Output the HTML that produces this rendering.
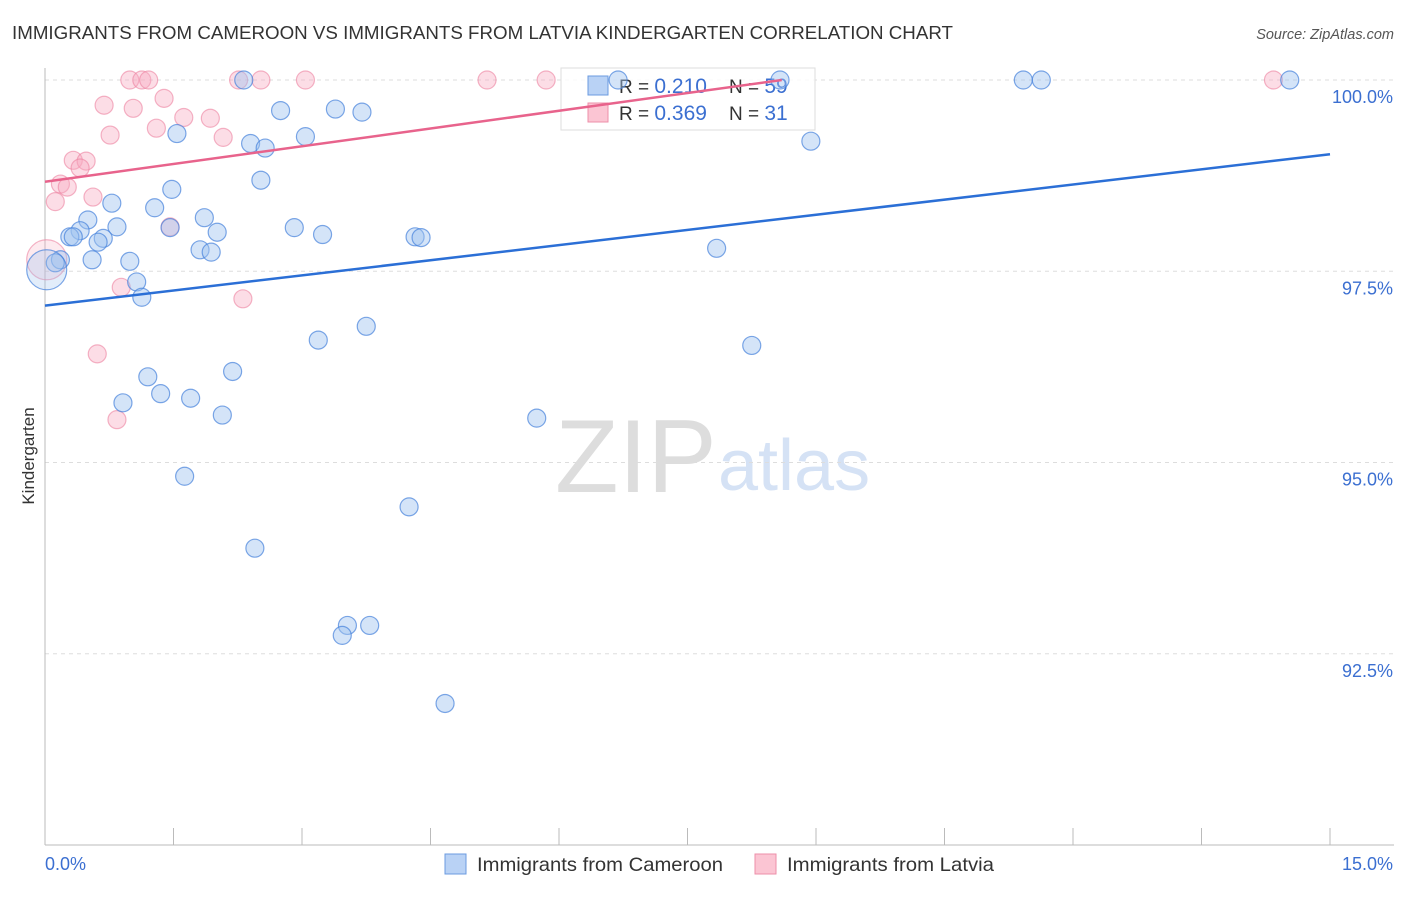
<!DOCTYPE html>
<html><head><meta charset="utf-8"><style>
body{margin:0;background:#fff;font-family:"Liberation Sans",sans-serif}
svg text{font-family:"Liberation Sans",sans-serif}
</style></head><body>
<svg id="chart" width="1406" height="892" viewBox="0 0 1406 892">
<text x="12" y="39" font-size="18.2" fill="#333" textLength="941" lengthAdjust="spacingAndGlyphs">IMMIGRANTS FROM CAMEROON VS IMMIGRANTS FROM LATVIA KINDERGARTEN CORRELATION CHART</text>
<text x="1394" y="39" font-size="14.5" fill="#555" font-style="italic" text-anchor="end">Source: ZipAtlas.com</text>
<text x="34" y="456" font-size="17" fill="#333" transform="rotate(-90 34 456)" text-anchor="middle">Kindergarten</text>
<text x="555" y="492" font-size="104" fill="#ddd" font-family="Liberation Serif">ZIP</text>
<text x="718" y="490" font-size="72" fill="#d5e2f5">atlas</text>
<g id="grid"></g><g id="axes"></g>
<g>
<rect x="561" y="68" width="254" height="62" fill="#fff" fill-opacity="0.85" stroke="#ddd"/>
<rect x="588" y="76" width="20" height="19" fill="#b9d2f5" stroke="#6b9be0"/>
<rect x="588" y="103" width="20" height="19" fill="#fbc5d3" stroke="#ee8fa9"/>
<text x="619" y="93" font-size="19" fill="#333">R = <tspan font-size="21" fill="#3b6fd1">0.210</tspan><tspan x="729">N = </tspan><tspan font-size="21" fill="#3b6fd1">59</tspan></text>
<text x="619" y="120" font-size="19" fill="#333">R = <tspan font-size="21" fill="#3b6fd1">0.369</tspan><tspan x="729">N = </tspan><tspan font-size="21" fill="#3b6fd1"> 31</tspan></text>
</g>
<g id="pts"></g><g id="lines"></g>
<g>
<rect x="445" y="854" width="21" height="20" fill="#b9d2f5" stroke="#6b9be0"/>
<text x="477" y="871" font-size="19.5" fill="#333" textLength="246" lengthAdjust="spacingAndGlyphs">Immigrants from Cameroon</text>
<rect x="755" y="854" width="21" height="20" fill="#fbc5d3" stroke="#ee8fa9"/>
<text x="787" y="871" font-size="19.5" fill="#333" textLength="207" lengthAdjust="spacingAndGlyphs">Immigrants from Latvia</text>
</g>
</svg>
<script>
const yTicks=[100,97.5,95,92.5];
const yTickLabels=["100.0%","97.5%","95.0%","92.5%"];
const xTickLabels=["0.0%","15.0%"];
const cameroonX=[2.32,6.69,8.58,11.42,11.63,14.53,2.75,3.39,3.70,1.54,3.04,2.4,2.57,8.94,2.52,1.48,0.78,1.28,0.5,1.86,0.84,1.46,0.41,0.29,0.33,0.68,0.62,2.01,2.91,3.24,4.32,4.39,1.81,1.94,7.84,0.55,0.99,0.18,0.12,1.07,1.13,3.19,3.75,8.25,1.2,2.19,0.91,1.35,1.7,2.07,5.74,1.63,4.25,2.45,3.53,3.79,3.47,4.67,0.02];
const cameroonY=[100,100,100,100,100,100,99.6,99.62,99.58,99.3,99.26,99.17,99.11,99.2,98.69,98.57,98.39,98.33,98.17,98.2,98.08,98.07,98.03,97.95,97.95,97.93,97.88,98.01,98.07,97.98,97.95,97.94,97.78,97.75,97.8,97.65,97.63,97.65,97.61,97.36,97.16,96.6,96.78,96.53,96.12,96.19,95.78,95.9,95.84,95.62,95.58,94.82,94.42,93.88,92.87,92.87,92.74,91.85,97.52];
const latviaX=[0.99,1.13,1.21,2.26,2.52,3.04,5.16,5.85,14.34,1.39,0.69,1.03,1.93,1.62,1.3,0.76,2.08,0.33,0.48,0.41,0.18,0.26,0.56,0.12,1.46,0.89,2.31,0.61,0.84,0.02];
const latviaY=[100,100,100,100,100,100,100,100,100,99.76,99.67,99.63,99.5,99.51,99.37,99.28,99.25,98.95,98.94,98.85,98.64,98.6,98.47,98.41,98.08,97.29,97.14,96.42,95.56,97.65];
const bigIdx=58;
const regCameroon=[0,15,97.05,99.03];
const regLatvia=[0,8.6,98.67,100.0];
const X=v=>45+v/15*1285, Y=v=>80+(100-v)*76.5;
const NS="http://www.w3.org/2000/svg";
function mk(t,a,p){const e=document.createElementNS(NS,t);for(const k in a)e.setAttribute(k,a[k]);p.appendChild(e);return e;}
const grid=document.getElementById('grid'),axes=document.getElementById('axes'),pts=document.getElementById('pts'),lines=document.getElementById('lines');
yTicks.forEach((t,i)=>{
 const g=mk('line',{x1:45,x2:1394,y1:Y(t),y2:Y(t),stroke:'#ddd','stroke-dasharray':'4,4'},grid);
 
 
 const tx=mk('text',{x:1393,y:Y(t)+23,'font-size':18,fill:'#3b6fd1','text-anchor':'end'},axes);
 tx.textContent=yTickLabels[i];
 
 
});
const ax=mk('line',{x1:45,x2:45,y1:68,y2:845,stroke:'#bbb'},axes);


const bx=mk('line',{x1:45,x2:1394,y1:845,y2:845,stroke:'#bbb'},axes);


for(let i=0;i<=10;i++){const l=mk('line',{x1:X(i*1.5),x2:X(i*1.5),y1:828,y2:845,stroke:'#bbb'},axes);
 
 }
[[0,45,'start'],[15,1393,'end']].forEach((d,i)=>{const t=mk('text',{x:d[1],y:870,'font-size':18,fill:'#3b6fd1','text-anchor':d[2]},axes);t.textContent=xTickLabels[i];
 
 });
latviaX.forEach((v,i)=>{const big=i===latviaX.length-1;const c=mk('circle',{cx:X(v),cy:Y(latviaY[i]),r:big?20:9,fill:big?'rgba(248,170,192,0.25)':'rgba(248,170,192,0.4)',stroke:'rgba(236,130,160,0.6)','stroke-width':1.2},pts);
 
 });
cameroonX.forEach((v,i)=>{const big=i===bigIdx;const c=mk('circle',{cx:X(v),cy:Y(cameroonY[i]),r:big?20:9,fill:big?'rgba(160,195,240,0.3)':'rgba(160,195,240,0.45)',stroke:'rgba(70,130,220,0.7)','stroke-width':1.2},pts);
 
 });
const l1=mk('line',{x1:X(regCameroon[0]),x2:X(regCameroon[1]),y1:Y(regCameroon[2]),y2:Y(regCameroon[3]),stroke:'#2b6fd6','stroke-width':2.5},lines);


const l2=mk('line',{x1:X(regLatvia[0]),x2:X(regLatvia[1]),y1:Y(regLatvia[2]),y2:Y(regLatvia[3]),stroke:'#e8638c','stroke-width':2.5},lines);


</script>
</body></html>
